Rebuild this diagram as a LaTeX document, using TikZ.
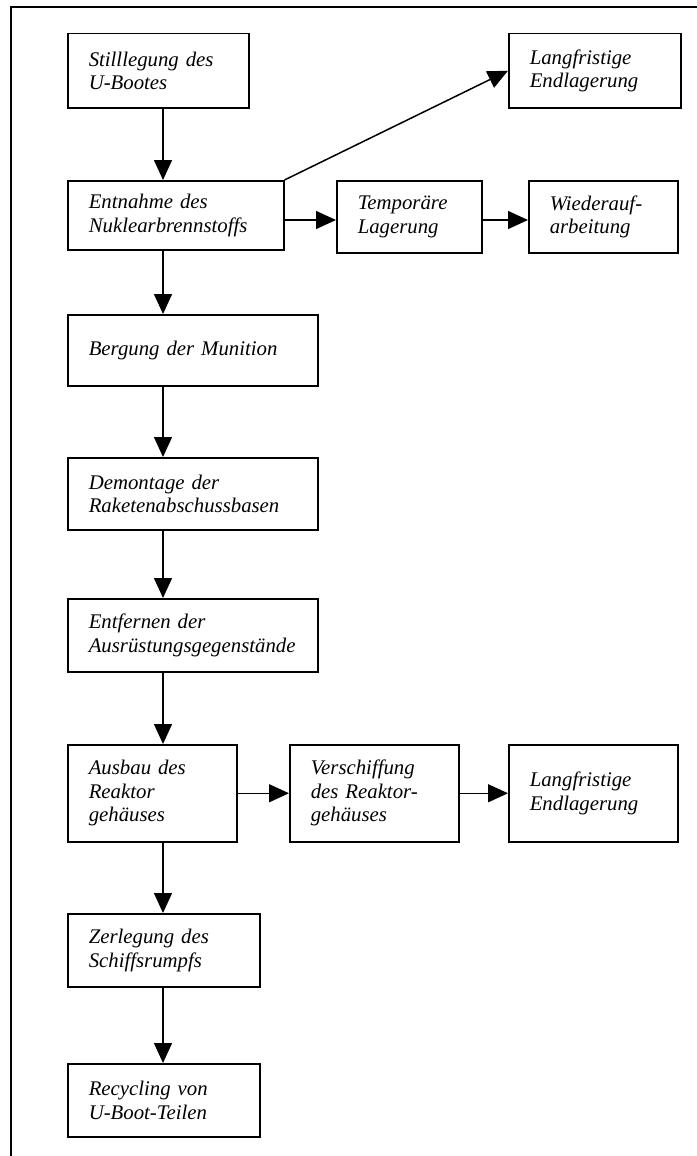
\documentclass[tikz,border=0pt]{standalone}
\usepackage{fontspec}
\setmainfont{Liberation Serif}
\usepackage{tikz}
\usetikzlibrary{arrows.meta,positioning,calc}
\hyphenpenalty=10000
\tikzset{
    stepbox/.style={draw, line width=1.5pt, anchor=north west, inner xsep=21pt, inner ysep=0pt, align=left, font=\fontsize{20.8}{23.5}\selectfont\itshape},
    flow/.style={line width=1.5pt, -{Triangle[length=20pt, width=18pt]}},
    frameline/.style={line width=1.5pt},
}

\begin{document}
\begin{tikzpicture}[x=1pt, y=-1pt]
    \useasboundingbox (0,0) rectangle (696,1156);
    % Frame
    \draw[frameline] (11,1160) -- (11,7) -- (700,7);

    % Main column
    \node[stepbox, text width=139pt, minimum height=74pt] (stil) at (67,33) {Stilllegung des\\U-Bootes};
    \node[stepbox, text width=174pt, minimum height=69pt] (entn) at (67,180) {Entnahme des\\Nuklearbrennstoffs};
    \node[stepbox, text width=208pt, minimum height=71pt] (berg) at (67,314) {Bergung der Munition};
    \node[stepbox, text width=208pt, minimum height=72pt] (demo) at (67,457) {Demontage der\\Raketenabschussbasen};
    \node[stepbox, text width=208pt, minimum height=73pt] (entf) at (67,598) {Entfernen der\\Ausrüstungsgegenstände};
    \node[stepbox, text width=127pt, minimum height=97pt] (ausb) at (67,744) {Ausbau des\\Reaktor\\gehäuses};
    \node[stepbox, text width=150pt, minimum height=73pt] (zerl) at (67,913) {Zerlegung des\\Schiffsrumpfs};
    \node[stepbox, text width=150pt, minimum height=73pt] (recy) at (67,1063) {Recycling von\\U-Boot-Teilen};

    % Fuel branch
    \node[stepbox, text width=130pt, minimum height=74pt] (langa) at (508,33) {Langfristige\\Endlagerung};
    \node[stepbox, text width=103pt, minimum height=72pt] (temp) at (336,180) {Temporäre\\Lagerung};
    \node[stepbox, text width=107pt, minimum height=72pt] (wied) at (528,180) {Wiederauf-\\arbeitung};

    % Reactor branch
    \node[stepbox, text width=127pt, minimum height=97pt] (versch) at (289,744) {Verschiffung\\des Reaktor-\\gehäuses};
    \node[stepbox, text width=127pt, minimum height=97pt] (langb) at (508,744) {Langfristige\\Endlagerung};

    % Connectors
    \coordinate (col) at (163,0);
    \coordinate (rowa) at (0,220);
    \draw[flow] (stil.south -| col) -- (entn.north -| col);
    \draw[flow] (entn.south -| col) -- (berg.north -| col);
    \draw[flow] (berg.south -| col) -- (demo.north -| col);
    \draw[flow] (demo.south -| col) -- (entf.north -| col);
    \draw[flow] (entf.south -| col) -- (ausb.north -| col);
    \draw[flow] (ausb.south -| col) -- (zerl.north -| col);
    \draw[flow] (zerl.south -| col) -- (recy.north -| col);

    \draw[flow] (entn.north east) -- (langa.west);
    \draw[flow] (entn.east |- rowa) -- (temp.west |- rowa);
    \draw[flow] (temp.east |- rowa) -- (wied.west |- rowa);

    \draw[flow] (ausb.east) -- (versch.west);
    \draw[flow] (versch.east) -- (langb.west);
\end{tikzpicture}
\end{document}
